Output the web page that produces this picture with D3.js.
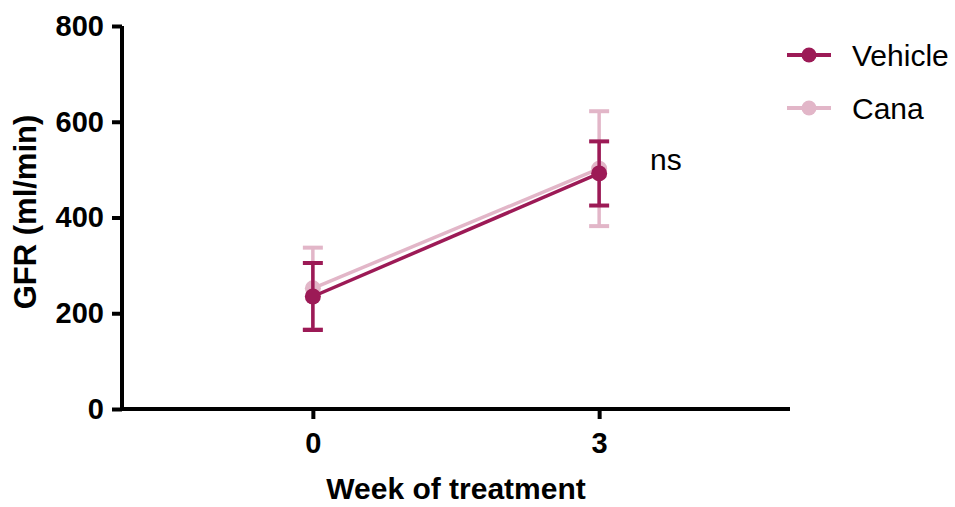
<!DOCTYPE html>
<html>
<head>
<meta charset="utf-8">
<script src="https://cdn.jsdelivr.net/npm/d3@7"></script>
<style>
  body { margin: 0; background: #fff; }
  text { font-family: "Liberation Sans", Arial, sans-serif; }
</style>
</head>
<body>
<svg id="chart" width="955" height="507"></svg>
<script>
// data
const weeks = [0, 3];
const groups = ["Vehicle", "Cana"];
const vehicleMean = [235, 492];
const vehicleErr = [70, 67];
const canaMean = [252, 502];
const canaErr = [85, 120];
const yTicks = [0, 200, 400, 600, 800];

const colors = { Vehicle: "#9c1a56", Cana: "#e2b6c8" };

const series = [
  { name: "Cana", mean: canaMean, err: canaErr },
  { name: "Vehicle", mean: vehicleMean, err: vehicleErr }
];

const svg = d3.select("#chart");
const margin = { left: 122, top: 26, right: 165, bottom: 98 };
const W = 955, H = 507;

const x = d3.scaleLinear().domain([-2, 5]).range([margin.left, W - margin.right]);
const y = d3.scaleLinear().domain([0, 800]).range([H - margin.bottom, margin.top]);

// axes
const yAxis = svg.append("g")
  .attr("transform", `translate(${margin.left},0)`)
  .call(d3.axisLeft(y).tickValues(yTicks).tickFormat(d3.format("d")).tickSize(10).tickPadding(8));
const xAxis = svg.append("g")
  .attr("transform", `translate(0,${y(0)})`)
  .call(d3.axisBottom(x).tickValues(weeks).tickFormat(d3.format("d")).tickSize(10).tickPadding(13));

[xAxis, yAxis].forEach(g => {
  g.select(".domain").attr("stroke", "#000").attr("stroke-width", 4);
  g.selectAll(".tick line").attr("stroke", "#000").attr("stroke-width", 4);
  g.selectAll(".tick text")
    .attr("fill", "#000")
    .style("font-size", "29px")
    .style("font-weight", "bold");
});
// make the axes meet without a path end-cap offset
xAxis.select(".domain").attr("d", `M${margin.left},0H${W - margin.right}`);
yAxis.select(".domain").attr("d", `M0,${y(800)}V${y(0) + 2}`);

// axis titles
svg.append("text")
  .attr("x", (x(-2) + x(5)) / 2)
  .attr("y", 499)
  .attr("text-anchor", "middle")
  .style("font-size", "30px")
  .style("font-weight", "bold")
  .text("Week of treatment");

svg.append("text")
  .attr("transform", `translate(36,212) rotate(-90)`)
  .attr("text-anchor", "middle")
  .style("font-size", "31px")
  .style("font-weight", "bold")
  .text("GFR (ml/min)");

// series
const line = d3.line().x(d => x(d.w)).y(d => y(d.m));
series.forEach(s => {
  const pts = weeks.map((w, i) => ({ w, m: s.mean[i], e: s.err[i] }));
  const g = svg.append("g").attr("stroke", colors[s.name]).attr("fill", colors[s.name]);
  g.append("path").datum(pts).attr("d", line).attr("fill", "none").attr("stroke-width", 3.5);
  pts.forEach(p => {
    g.append("line").attr("x1", x(p.w)).attr("x2", x(p.w))
      .attr("y1", y(p.m - p.e)).attr("y2", y(p.m + p.e)).attr("stroke-width", 3.5);
    [p.m - p.e, p.m + p.e].forEach(v => {
      g.append("line").attr("x1", x(p.w) - 10).attr("x2", x(p.w) + 10)
        .attr("y1", y(v)).attr("y2", y(v)).attr("stroke-width", 4);
    });
    g.append("circle").attr("cx", x(p.w)).attr("cy", y(p.m)).attr("r", 8).attr("stroke", "none");
  });
});

// significance label
svg.append("text")
  .attr("x", 650).attr("y", 170)
  .style("font-size", "30px")
  .text("ns");

// legend
groups.forEach((name, i) => {
  const ly = 55 + i * 53;
  const g = svg.append("g");
  g.append("line").attr("x1", 787).attr("x2", 831).attr("y1", ly).attr("y2", ly)
    .attr("stroke", colors[name]).attr("stroke-width", 4);
  g.append("circle").attr("cx", 809).attr("cy", ly).attr("r", 7.5).attr("fill", colors[name]);
  g.append("text").attr("x", 852).attr("y", ly + 11)
    .style("font-size", "30px").text(name);
});
</script>
</body>
</html>
